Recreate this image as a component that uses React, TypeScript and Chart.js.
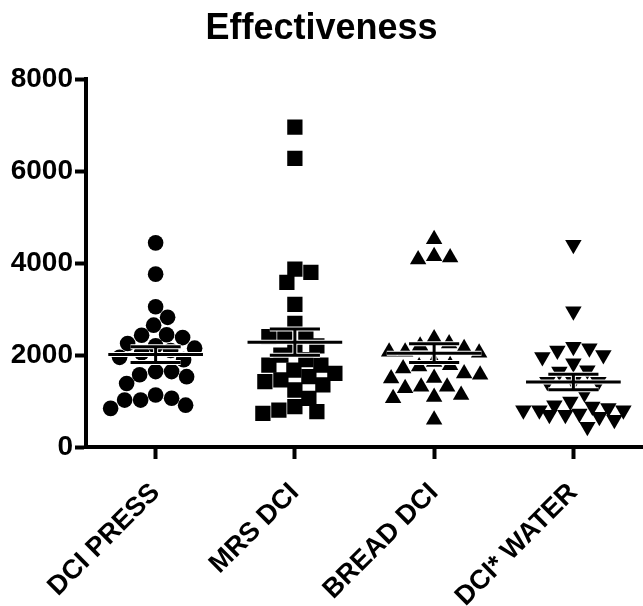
import React, { useEffect, useRef } from 'react';
import { Chart, registerables } from 'chart.js';

Chart.register(...registerables);

const chartTitle = 'Effectiveness';
const categories = ['DCI PRESS', 'MRS DCI', 'BREAD DCI', 'DCI* WATER'];
const yTickValues = [0, 2000, 4000, 6000, 8000];

const dciPress = [4440, 3760, 3050, 2820, 2650, 2440, 2430, 2380, 2250, 2200, 2150, 2100, 2050, 1950, 1900, 1640, 1530, 1640, 1570, 1380, 1130, 1020, 1060, 840, 910, 1020];
const mrsDci = [6960, 6280, 3870, 3800, 3580, 3100, 2690, 2440, 2400, 2430, 2200, 2150, 1780, 1780, 1670, 1600, 1530, 1460, 1420, 1240, 1060, 880, 800, 770, 730, 2000, 1900, 1350];
const breadDci = [4520, 4150, 4120, 4080, 2360, 2250, 2200, 2070, 2070, 2050, 1850, 1780, 1750, 1710, 1600, 1570, 1500, 1490, 1310, 1310, 1280, 1130, 1090, 1060, 590, 2150];
const dciWater = [4400, 2950, 2180, 2150, 2100, 2000, 1960, 1820, 1640, 1670, 1420, 1420, 1420, 1170, 910, 800, 700, 730, 880, 850, 660, 800, 440, 590, 990, 800, 700];

const groups = [dciPress, mrsDci, breadDci, dciWater];
const pointStyles = ['circle', 'rect', 'triangle', 'triangle'];
const pointRotations = [0, 0, 0, 180];
const pointRadii = [7.8, 10.8, 9.5, 9.5];

const FONT = "'Liberation Sans', Arial, Helvetica, sans-serif";

function swarmOffsets(values: number[], pxPerUnitY: number, pxPerCat: number, minDist: number, maxPx: number) {
  const order = values.map((_, i) => i).sort((a, b) => values[b] - values[a]);
  const placed: { x: number; y: number }[] = [];
  const offsets = new Array(values.length).fill(0);
  for (const i of order) {
    const y = values[i] * pxPerUnitY;
    let best = 0;
    let bestScore = -Infinity;
    for (let k = 0; k <= 2 * maxPx; k++) {
      const dx = k % 2 === 1 ? (k + 1) / 2 : -k / 2;
      let minD = Infinity;
      for (const p of placed) {
        const d = Math.hypot(p.x - dx, p.y - y);
        if (d < minD) minD = d;
      }
      if (minD >= minDist) {
        best = dx;
        break;
      }
      if (minD > bestScore) {
        bestScore = minD;
        best = dx;
      }
    }
    placed.push({ x: best, y });
    offsets[i] = best / pxPerCat;
  }
  return offsets;
}

function stats(vals: number[]) {
  const n = vals.length;
  const mean = vals.reduce((a, b) => a + b, 0) / n;
  const sd = Math.sqrt(vals.reduce((a, b) => a + (b - mean) * (b - mean), 0) / (n - 1));
  return { mean, sem: sd / Math.sqrt(n) };
}

const meanSemPlugin = {
  id: 'meanSem',
  afterDatasetsDraw(chart: any) {
    const { ctx, scales } = chart;
    const xs = scales.x;
    const ys = scales.y;
    const unit = xs.getPixelForValue(1) - xs.getPixelForValue(0);
    groups.forEach((vals, i) => {
      const { mean, sem } = stats(vals);
      const cx = xs.getPixelForValue(i);
      const ym = ys.getPixelForValue(mean);
      const yt = ys.getPixelForValue(mean + sem);
      const yb = ys.getPixelForValue(mean - sem);
      const mw = unit * 0.34;
      const cw = unit * 0.18;
      const segs: [number, number, number, number][] = [
        [cx - mw, ym, cx + mw, ym],
        [cx - cw, yt, cx + cw, yt],
        [cx - cw, yb, cx + cw, yb],
        [cx, yt, cx, yb],
      ];
      ctx.save();
      ctx.lineCap = 'butt';
      ctx.strokeStyle = '#ffffff';
      ctx.lineWidth = 5;
      segs.forEach(([a, b, c, d]) => {
        ctx.beginPath();
        ctx.moveTo(a, b);
        ctx.lineTo(c, d);
        ctx.stroke();
      });
      ctx.strokeStyle = '#000000';
      ctx.lineWidth = 3;
      segs.forEach(([a, b, c, d]) => {
        ctx.beginPath();
        ctx.moveTo(a, b);
        ctx.lineTo(c, d);
        ctx.stroke();
      });
      ctx.restore();
    });
  },
};

export default function App() {
  const canvasRef = useRef<HTMLCanvasElement | null>(null);

  useEffect(() => {
    if (!canvasRef.current) return;
    const datasets = groups.map((vals, gi) => ({
      label: categories[gi],
      data: vals.map((v) => ({ x: gi, y: v })),
      pointStyle: pointStyles[gi] as any,
      rotation: pointRotations[gi],
      pointRadius: pointRadii[gi],
      pointHoverRadius: pointRadii[gi],
      backgroundColor: '#000000',
      borderColor: '#000000',
      borderWidth: 0,
      showLine: false,
    }));

    const chart = new Chart(canvasRef.current, {
      type: 'scatter',
      data: { datasets },
      plugins: [meanSemPlugin],
      options: {
        animation: false,
        responsive: false,
        maintainAspectRatio: false,
        layout: { padding: 0, autoPadding: false },
        plugins: {
          legend: { display: false },
          tooltip: { enabled: false },
          title: {
            display: true,
            text: chartTitle,
            color: '#000000',
            font: { family: FONT, size: 36, weight: 'bold' },
            padding: { top: 7, bottom: 29 },
          },
        },
        scales: {
          x: {
            type: 'linear',
            min: -0.5,
            max: 3.5,
            afterBuildTicks: (scale: any) => {
              scale.ticks = categories.map((_, i) => ({ value: i }));
            },
            afterFit: (scale: any) => {
              scale.height = 159;
              scale.paddingLeft = 0;
              scale.paddingRight = 0;
            },
            ticks: {
              callback: (v: any) => categories[v as number] ?? '',
              color: '#000000',
              font: { family: FONT, size: 27, weight: 'bold' },
              minRotation: 45,
              maxRotation: 45,
              padding: 18,
              autoSkip: false,
            },
            grid: {
              display: true,
              drawOnChartArea: false,
              drawTicks: true,
              tickLength: 12,
              tickWidth: 4,
              tickColor: '#000000',
            },
            border: { display: true, color: '#000000', width: 4 },
          },
          y: {
            type: 'linear',
            min: 0,
            max: 8000,
            afterBuildTicks: (scale: any) => {
              scale.ticks = yTickValues.map((v) => ({ value: v }));
            },
            afterFit: (scale: any) => {
              scale.width = 86;
            },
            ticks: {
              callback: (v: any) => String(v),
              color: '#000000',
              font: { family: FONT, size: 28, weight: 'bold' },
              padding: 2,
            },
            grid: {
              display: true,
              drawOnChartArea: false,
              drawTicks: true,
              tickLength: 11,
              tickWidth: 4,
              tickColor: '#000000',
            },
            border: { display: true, color: '#000000', width: 4 },
          },
        },
      },
    });

    const xs: any = chart.scales.x;
    const ys: any = chart.scales.y;
    const pxPerCat = Math.abs(xs.getPixelForValue(1) - xs.getPixelForValue(0));
    const pxPerUnitY = Math.abs(ys.getPixelForValue(0) - ys.getPixelForValue(1000)) / 1000;
    groups.forEach((vals, gi) => {
      const offs = swarmOffsets(vals, pxPerUnitY, pxPerCat, 15.5, 50);
      chart.data.datasets[gi].data = vals.map((v, j) => ({ x: gi + offs[j], y: v })) as any;
    });
    chart.update();

    return () => chart.destroy();
  }, []);

  return (
    <div style={{ position: 'absolute', left: 0, top: 0, width: 643, height: 606, background: '#ffffff' }}>
      <canvas ref={canvasRef} width={643} height={606} style={{ display: 'block' }} />
    </div>
  );
}
